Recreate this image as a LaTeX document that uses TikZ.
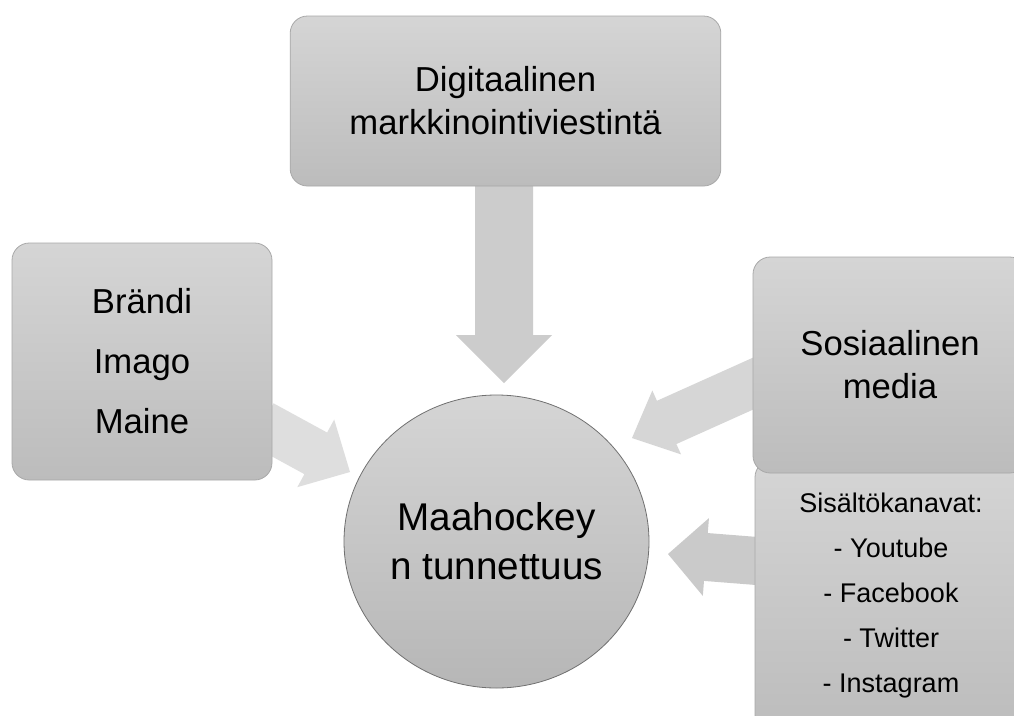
\documentclass[tikz,border=0pt]{standalone}
\usepackage{fontspec}
\setmainfont{Liberation Sans}
\usetikzlibrary{positioning,shapes.geometric}
\definecolor{boxtop}{HTML}{D5D5D5}
\definecolor{boxbot}{HTML}{BCBCBC}
\definecolor{boxline}{HTML}{A8A8A8}
\definecolor{ringline}{HTML}{707070}
\definecolor{arrA}{HTML}{CCCCCC}
\definecolor{arrB}{HTML}{DEDEDE}
\definecolor{arrC}{HTML}{D6D6D6}
\definecolor{arrD}{HTML}{CACACA}
\pgfdeclarelayer{back}
\pgfsetlayers{back,main}
% block arrow: tip, angle, length, shaft half, head half, head length, colour
\newcommand{\blockarrow}[7]{%
  \fill[#7, shift={(#1)}, rotate=#2]
    (0,0) -- (-#6,#5) -- (-#6,#4) -- (-#3,#4) -- (-#3,-#4) -- (-#6,-#4) -- (-#6,-#5) -- cycle;}

\begin{document}
\begin{tikzpicture}[x=0.75pt, y=-0.75pt,
  box/.style={draw=boxline, line width=0.6pt, rounded corners=13pt, top color=boxtop, bottom color=boxbot, align=center, inner sep=0pt},
  hub/.style={ellipse, draw=ringline, line width=0.6pt, top color=boxtop, bottom color=boxbot!97!black, align=center, inner sep=0pt}]
\useasboundingbox (0,0) rectangle (1014,715);
\clip (0,0) rectangle (1014,715);

\node[box, minimum width=323pt, minimum height=127.5pt, font=\fontsize{26}{32.25}\selectfont] (digi) at (505.5,101) {Digitaalinen\\markkinointiviestintä};
\node[box, minimum width=195pt, minimum height=177.75pt, font=\fontsize{26}{45}\selectfont] (brand) at (142,361.5) {Brändi\\Imago\\Maine};
\node[hub, minimum width=228.75pt, minimum height=219.75pt, font=\fontsize{29}{36.75}\selectfont] (aware) at (496.5,541.5) {Maahockey\\n tunnettuus};
\node[box, minimum width=204pt, minimum height=204pt, font=\fontsize{20.25}{33.75}\selectfont] (chan) at (891,596) {Sisältökanavat:\\- Youtube\\- Facebook\\- Twitter\\- Instagram};
\node[box, minimum width=205.5pt, minimum height=162pt, font=\fontsize{26}{32.25}\selectfont] (some) at (890,365) {Sosiaalinen\\media};

\coordinate (tipA) at (504,383);
\coordinate (tipB) at (350,472);
\coordinate (tipC) at (632,438);
\coordinate (tipD) at (668,554);

\begin{pgfonlayer}{back}
\fill[white] (0,0) rectangle (1014,715);
\blockarrow{tipA}{-90}{210}{29}{48}{48}{arrA}
\blockarrow{tipB}{-28.6}{100}{23.7}{38.5}{39}{arrB}
\blockarrow{tipC}{204.2}{150}{23.7}{35}{38}{arrC}
\blockarrow{tipD}{175.5}{100}{24}{39}{38}{arrD}
\end{pgfonlayer}
\end{tikzpicture}
\end{document}
